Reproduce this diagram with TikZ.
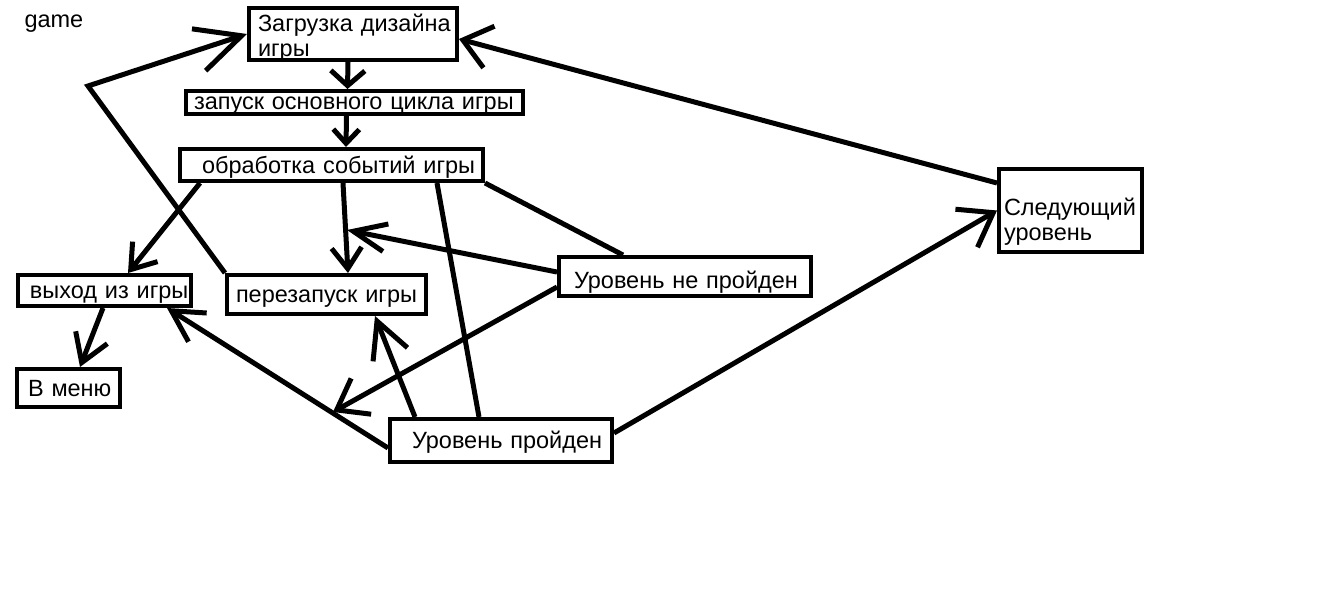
\documentclass[tikz,border=0pt]{standalone}
\usepackage{fontspec}
\setmainfont{Liberation Sans}
\usetikzlibrary{arrows.meta}

\begin{document}
\begin{tikzpicture}[x=1pt, y=-1pt,
  every node/.style={font=\fontsize{23.5pt}{25pt}\selectfont},
  box/.style={draw, line width=4pt, outer sep=2pt, inner ysep=0pt, align=left, anchor=north west},
  link/.style={line width=5pt},
  arr/.style 2 args={link, -{Straight Barb[length=#1, width=#2]}}]
  \useasboundingbox (0,0) rectangle (1334,594);
  \node[anchor=base west] (title) at (21,28) {game};
  \node[box, inner xsep=9pt, text width=190pt, text height=24pt, text depth=28pt] (load) at (247,6) {Загрузка~дизайна\\игры};
  \node[box, inner xsep=8pt, text width=321pt, text height=19pt, text depth=4pt] (loop) at (184,89) {запуск~основного~цикла~игры};
  \node[box, inner xsep=22pt, text width=259pt, text height=24pt, text depth=8pt] (events) at (178,147) {обработка~событий~игры};
  \node[box, inner xsep=12pt, text width=149pt, text height=23pt, text depth=8pt] (exit) at (16,273) {выход~из~игры};
  \node[box, inner xsep=9pt, text width=181pt, text height=27pt, text depth=12pt] (restart) at (225,273) {перезапуск~игры};
  \node[box, inner xsep=11pt, text width=81pt, text height=27pt, text depth=11pt] (menu) at (15,367) {В~меню};
  \node[box, inner xsep=15pt, text width=222pt, text height=31pt, text depth=8pt] (fail) at (557,255) {Уровень~не~пройден};
  \node[box, inner xsep=22pt, text width=178pt, text height=29pt, text depth=14pt] (pass) at (388,417) {Уровень~пройден};
  \node[box, inner xsep=5pt, text width=133pt, text height=46pt, text depth=37pt] (next) at (997,167) {Следующий\\уровень};

  \coordinate (kink) at (88,86);
  \coordinate (hit1) at (347,230);
  \coordinate (hit2) at (333,412);

  \draw[arr={15pt}{34pt}] ([xshift=-5pt]load.south) -- ([xshift=-7pt]loop.north);
  \draw[arr={14pt}{26pt}] ([xshift=-8pt]loop.south) -- ([xshift=14.5pt]events.north);
  \draw[arr={23pt}{32pt}] ([xshift=22pt]events.south west) -- ([xshift=23.5pt]exit.north);
  \draw[arr={21pt}{30pt}] ([xshift=11.5pt]events.south) -- ([xshift=21.5pt]restart.north);
  \draw[arr={45pt}{44pt}] (restart.north west) -- (kink) -- (load.west);
  \draw[arr={33pt}{28pt}] ([yshift=4.5pt]fail.west) -- (hit1);
  \draw[link] (events.south east) -- ([xshift=66pt]fail.north west);
  \draw[link] ([xshift=105.5pt]events.south) -- ([xshift=-22pt]pass.north);
  \draw[arr={28pt}{41pt}] ([yshift=-10.5pt]fail.west) -- (hit2);
  \draw[arr={31pt}{34pt}] ([yshift=-7.5pt]pass.west) -- ([xshift=-26pt]exit.south east);
  \draw[arr={36pt}{37pt}] ([xshift=27pt]pass.north west) -- ([xshift=48.5pt]restart.south);
  \draw[arr={31pt}{44pt}] ([yshift=7.5pt]pass.east) -- (next.west);
  \draw[arr={27pt}{43pt}] ([yshift=-16pt]next.north west) -- ([yshift=-5pt]load.east);
  \draw[arr={27pt}{34pt}] ([xshift=-1.5pt]exit.south) -- ([xshift=11.5pt]menu.north);
\end{tikzpicture}
\end{document}
